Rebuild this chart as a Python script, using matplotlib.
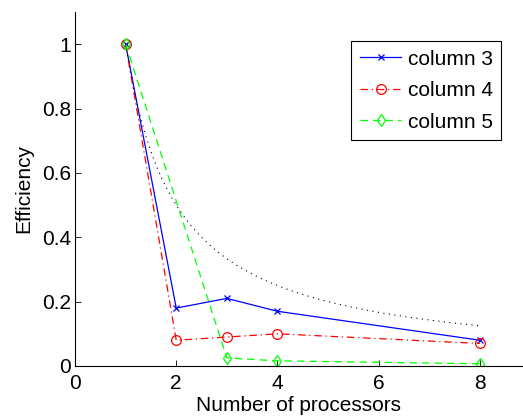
import numpy as np
import matplotlib
matplotlib.use("Agg")
import matplotlib.pyplot as plt

plt.rcParams['font.family'] = ['Liberation Sans', 'DejaVu Sans']

# efficiency measurements per processor count
procs = [1, 2, 3, 4, 8]
col3 = [1.0, 0.18, 0.21, 0.17, 0.08]
col4 = [1.0, 0.08, 0.09, 0.10, 0.07]
procs5 = [1, 3, 4, 8]
col5 = [1.0, 0.025, 0.016, 0.007]

# ideal efficiency curve 1/p
ideal_p = np.linspace(1, 8, 200)
ideal_eff = 1.0 / ideal_p

fig = plt.figure(figsize=(5.23, 4.19), dpi=100)
ax = fig.add_axes([0.1434, 0.1265, 0.8566, 0.845])

ax.plot(procs, col3, '-', color=(0, 0, 1), marker='x', markersize=5,
        linewidth=0.9, markeredgewidth=0.9, label='column 3')
ax.plot(procs, col4, '-.', color=(1, 0, 0), marker='o', markersize=7,
        markerfacecolor='none', linewidth=0.9, markeredgewidth=0.9,
        label='column 4', dashes=(6, 3, 1, 3))
ax.plot(procs5, col5, '--', color=(0, 1, 0), marker='d', markersize=6.5,
        markerfacecolor='none', linewidth=0.9, markeredgewidth=0.9,
        label='column 5', dashes=(6, 4))
ax.plot(ideal_p, ideal_eff, color='black', linewidth=0.8, dashes=(1, 4))

ax.set_xlim(0, 8.85)
ax.set_ylim(0, 1.1)
ax.set_xticks([0, 2, 4, 6, 8])
ax.set_yticks([0, 0.2, 0.4, 0.6, 0.8, 1.0])
ax.set_yticklabels(['0', '0.2', '0.4', '0.6', '0.8', '1'])
ax.tick_params(direction='in', labelsize=15, length=4, width=0.6, pad=3)
ax.tick_params(axis='x', pad=6)
ax.spines['top'].set_visible(False)
ax.spines['right'].set_visible(False)
ax.set_xlabel('Number of processors', fontsize=15, labelpad=2)
ax.set_ylabel('Efficiency', fontsize=15, labelpad=6)

leg = ax.legend(loc='upper right', bbox_to_anchor=(0.951, 0.917), fontsize=15,
                fancybox=False, edgecolor='black', framealpha=1,
                handlelength=2.0, handletextpad=0.3, borderpad=0.4,
                labelspacing=0.6, borderaxespad=0)
leg.get_frame().set_linewidth(0.8)

fig.savefig('out.png', dpi=100)
